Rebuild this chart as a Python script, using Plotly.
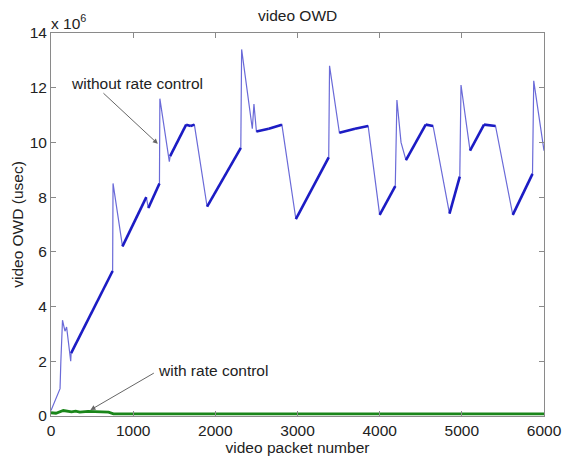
import plotly.graph_objects as go

# Blue series: without rate control (packet number, OWD in 1e6 usec)
blue_x = [0, 110, 120, 140, 170, 190, 240, 245, 750, 755, 870, 1160, 1185, 1320, 1325,
          1440, 1450, 1645, 1700, 1745, 1900, 2310, 2320, 2450, 2470, 2500, 2650, 2810,
          2980, 3380, 3390, 3510, 3700, 3860, 4000, 4190, 4210, 4260, 4320, 4560, 4650,
          4850, 4975, 4990, 5100, 5270, 5410, 5620, 5860, 5875, 6000]
blue_y = [0.2, 1.0, 2.0, 3.5, 3.1, 3.25, 2.0, 2.3, 5.3, 8.5, 6.2, 8.0, 7.6, 8.5, 11.6,
          9.3, 9.5, 10.65, 10.6, 10.65, 7.65, 9.8, 13.4, 10.5, 11.4, 10.4, 10.5, 10.65,
          7.2, 9.45, 12.8, 10.35, 10.5, 10.6, 7.35, 8.4, 11.55, 10.0, 9.35, 10.65, 10.6,
          7.4, 8.75, 12.1, 9.7, 10.65, 10.6, 7.35, 8.85, 12.25, 9.7]
# segment from point i to i+1 is densely sampled (drawn thick)
blue_dense = [0, 0, 0, 0, 0, 0, 0, 1, 0, 0, 1, 0, 1, 0, 0,
              0, 1, 1, 1, 0, 1, 0, 0, 0, 0, 1, 1, 0,
              1, 0, 0, 1, 1, 0, 1, 0, 0, 0, 1, 1, 0,
              1, 0, 0, 1, 1, 0, 1, 0, 0, 0]

# Green series: with rate control
green_x = [0, 60, 150, 250, 300, 350, 450, 550, 700, 760, 1500, 3000, 4500, 6000]
green_y = [0.12, 0.1, 0.2, 0.15, 0.18, 0.14, 0.17, 0.15, 0.14, 0.08, 0.08, 0.08, 0.08, 0.08]

x_ticks = [0, 1000, 2000, 3000, 4000, 5000, 6000]
y_ticks = [0, 2, 4, 6, 8, 10, 12, 14]

thick_x, thick_y = [], []
for i in range(len(blue_x) - 1):
    if blue_dense[i]:
        thick_x += [blue_x[i], blue_x[i + 1], None]
        thick_y += [blue_y[i], blue_y[i + 1], None]

fig = go.Figure()
fig.add_trace(go.Scatter(x=blue_x, y=blue_y, mode="lines",
                         line=dict(color="#6a6ad8", width=1.2), hoverinfo="skip"))
fig.add_trace(go.Scatter(x=thick_x, y=thick_y, mode="lines",
                         line=dict(color="#1c1cc4", width=2.6), hoverinfo="skip"))
fig.add_trace(go.Scatter(x=green_x, y=green_y, mode="lines",
                         line=dict(color="#1a861a", width=2.8), hoverinfo="skip"))

font = "Liberation Sans, Arial, sans-serif"
fs = 15.5
axis_common = dict(showline=True, linecolor="#8a8a8a", linewidth=1, mirror="ticks",
                   ticks="inside", ticklen=5, tickcolor="#8a8a8a", showgrid=False,
                   zeroline=False, tickfont=dict(size=fs, color="#222", family=font))

fig.update_layout(
    width=574, height=461,
    margin=dict(l=51, r=27, t=33, b=38),
    paper_bgcolor="white", plot_bgcolor="white",
    showlegend=False,
    font=dict(family=font, color="#222"),
    xaxis=dict(range=[0, 6000], tickvals=x_ticks, ticktext=[str(v) for v in x_ticks],
               title=dict(text="video packet number", font=dict(size=fs), standoff=0),
               **axis_common),
    yaxis=dict(range=[0, 14], tickvals=y_ticks, ticktext=[str(v) for v in y_ticks],
               title=dict(text="video OWD (usec)", font=dict(size=fs), standoff=2),
               **axis_common),
    annotations=[
        dict(text="video OWD", x=0.5, y=1.0, xref="paper", yref="paper",
             xanchor="center", yanchor="bottom", yshift=7, showarrow=False,
             font=dict(size=fs)),
        dict(text="x 10<sup>6</sup>", x=0, y=1.0, xref="paper", yref="paper",
             xanchor="left", yanchor="bottom", xshift=-2, yshift=-1, showarrow=False,
             font=dict(size=fs)),
        dict(text="without rate control", x=220, y=12.15, xref="x", yref="y",
             xanchor="left", yanchor="middle", showarrow=False, font=dict(size=fs)),
        dict(text="", x=1300, y=9.95, xref="x", yref="y", ax=620, ay=11.85,
             axref="x", ayref="y", showarrow=True, arrowhead=2, arrowsize=1,
             arrowwidth=1, arrowcolor="#666"),
        dict(text="with rate control", x=1280, y=1.67, xref="x", yref="y",
             xanchor="left", yanchor="middle", showarrow=False, font=dict(size=fs)),
        dict(text="", x=480, y=0.22, xref="x", yref="y", ax=1270, ay=1.6,
             axref="x", ayref="y", showarrow=True, arrowhead=2, arrowsize=1,
             arrowwidth=1, arrowcolor="#666"),
    ],
)

fig.write_html("out.html")
